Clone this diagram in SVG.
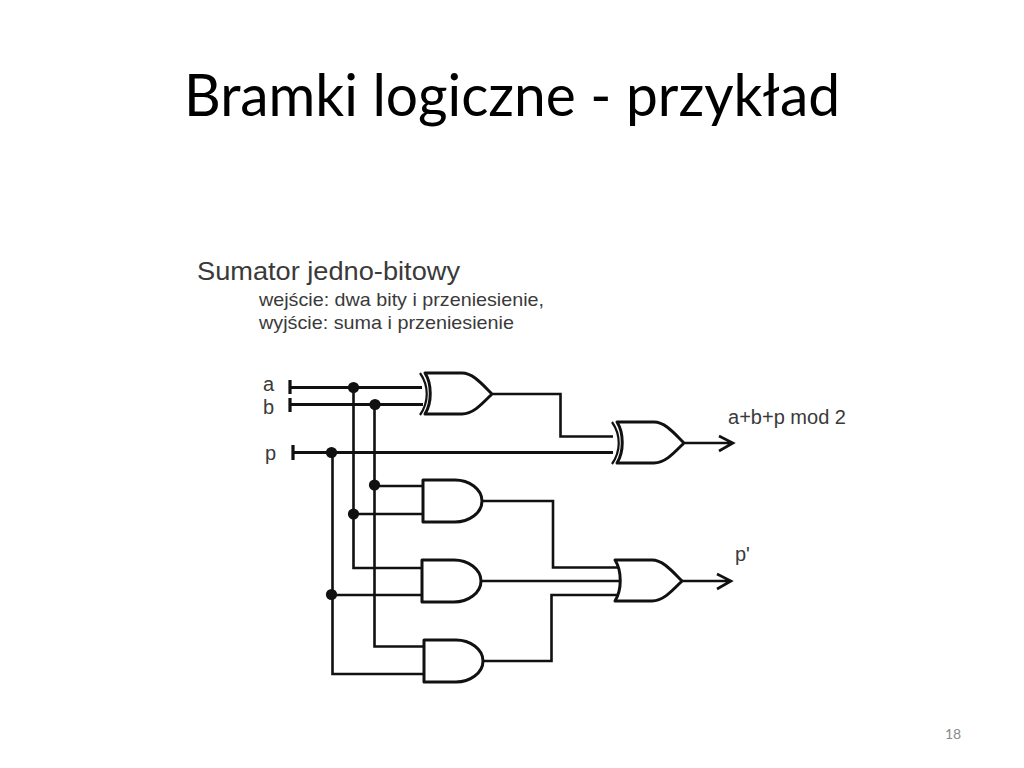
<svg xmlns="http://www.w3.org/2000/svg" width="1024" height="768" viewBox="0 0 1024 768">
<style>
.w{fill:none;stroke:#111;stroke-width:2.6;stroke-linejoin:miter}
.h{fill:none;stroke:#111;stroke-width:3.200}
.g{fill:#fff;stroke:#111;stroke-width:3;stroke-linejoin:round}
.x{fill:none;stroke:#111;stroke-width:2.200}
.d{fill:#111;stroke:none}
.t{font-family:"Liberation Sans",Arial,sans-serif;fill:#3a3a3a}
</style>
<defs>
<path id="and" d="M0 0H32C46 0 59 9 59 21C59 33 46 42 32 42H0Z"/>
<path id="or" d="M0 0H37C48 0 57 11 67 21C57 31 48 41 37 41H0C7 30 7 11 0 0Z"/>
</defs>
<rect width="1024" height="768" fill="#fff"/>
<text id="title" x="184" y="116" font-family="Lato,'Liberation Sans',sans-serif" font-size="58" fill="#000" textLength="656" lengthAdjust="spacingAndGlyphs">Bramki logiczne - przykład</text>
<text class="t" x="197" y="280" font-size="25.500" textLength="263" lengthAdjust="spacingAndGlyphs">Sumator jedno-bitowy</text>
<text class="t" x="259" y="306" font-size="19" textLength="285" lengthAdjust="spacingAndGlyphs">wejście: dwa bity i przeniesienie,</text>
<text class="t" x="259" y="329" font-size="19" textLength="255" lengthAdjust="spacingAndGlyphs">wyjście: suma i przeniesienie</text>
<text class="t" x="263" y="391" font-size="20">a</text>
<text class="t" x="263" y="414" font-size="20">b</text>
<text class="t" x="265" y="460" font-size="20">p</text>
<text class="t" x="728" y="424" font-size="20" textLength="118" lengthAdjust="spacingAndGlyphs">a+b+p mod 2</text>
<text class="t" x="735" y="561" font-size="20">p'</text>
<text id="page" x="945" y="739" font-family="Lato,'Liberation Sans',sans-serif" font-size="14" fill="#8a8a8a">18</text>
<g id="connectors">
<path class="h" d="M290 380V394M290 398V412M293 445V460"/>
<path class="h" d="M290 387.500H422M290 404.500H423M293 452.500H613"/>
<path class="w" d="M353.500 387.500V568H423M374.500 404.500V646.500H424M332.500 452.500V674H424"/>
<path class="w" d="M374.500 486H423M353.500 514H423M332 595H422"/>
<path class="w" d="M493 394H560.500V436.500H613"/>
<path class="w" d="M482 501H553V567.500H618M482 581H620M483 661H551.500V595H618"/>
<path class="w" d="M685 443H733M719 436L733 443L719 451"/>
<path class="w" d="M681 581H731M717 574L731 581L717 589"/>
<circle class="d" cx="353.500" cy="387.500" r="5.600"/>
<circle class="d" cx="375" cy="404.500" r="5.600"/>
<circle class="d" cx="331.500" cy="452.500" r="5.600"/>
<circle class="d" cx="374.500" cy="485" r="5.600"/>
<circle class="d" cx="353.500" cy="514" r="5.600"/>
<circle class="d" cx="331.500" cy="594.500" r="5.600"/>
</g>
<g id="xor1">
<path class="x" d="M420 373C429 386 429 402 420 415"/>
<use href="#or" class="g" x="425" y="373"/>
</g>
<g id="xor2">
<path class="x" d="M612 422C621 435 621 451 612 464"/>
<use href="#or" class="g" x="617" y="422"/>
</g>
<g id="and1"><use href="#and" class="g" x="423" y="480"/></g>
<g id="and2"><use href="#and" class="g" x="422" y="560"/></g>
<g id="and3"><use href="#and" class="g" x="424" y="640"/></g>
<g id="or1"><use href="#or" class="g" x="615" y="560"/></g>
</svg>
